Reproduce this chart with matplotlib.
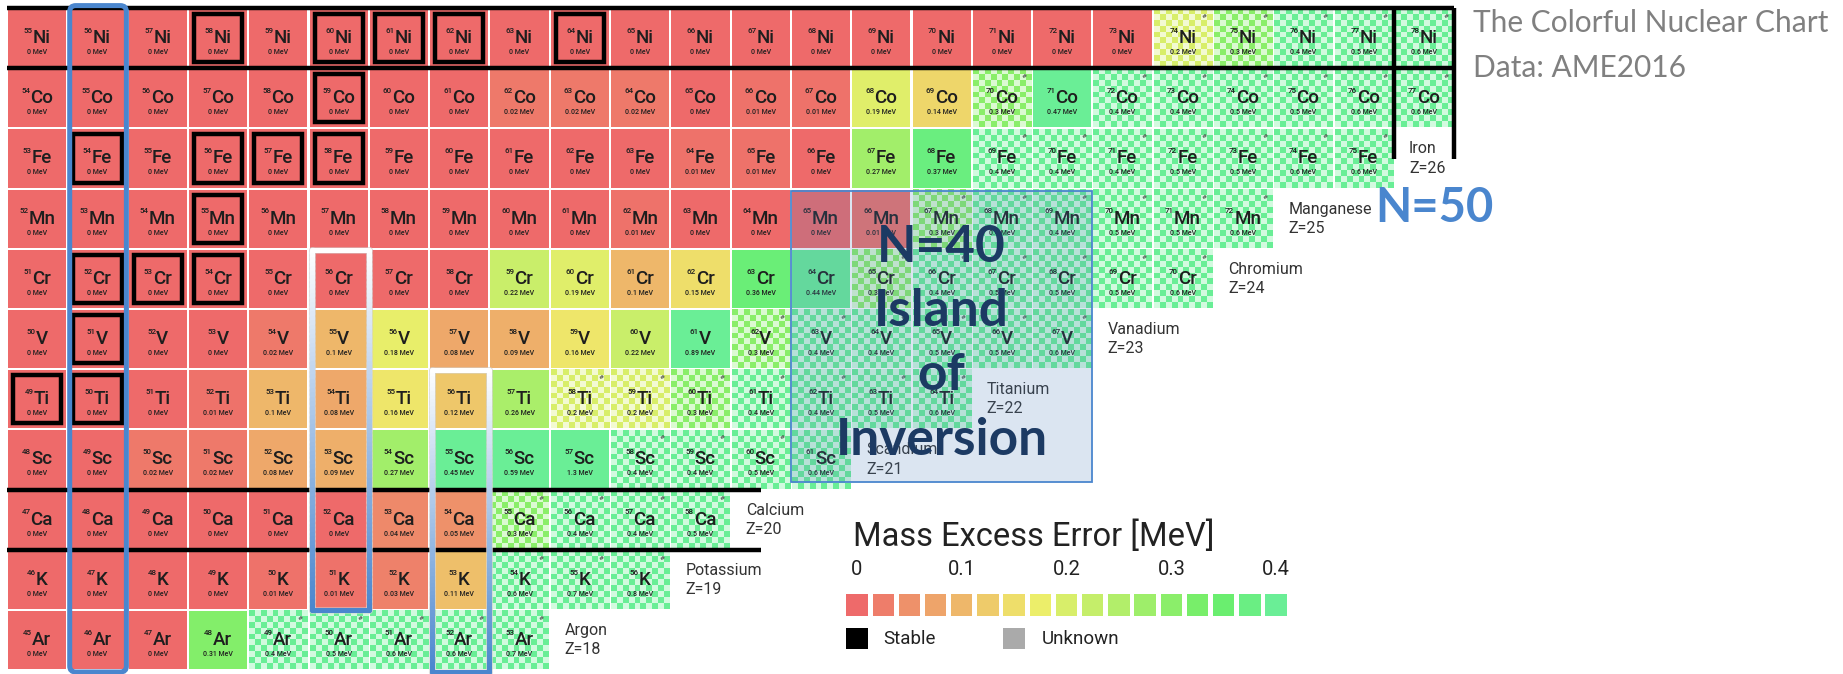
import colorsys
import numpy as np
import matplotlib.pyplot as plt
from matplotlib.patches import Rectangle, FancyBboxPatch
from matplotlib.collections import LineCollection
import matplotlib.patheffects as pe

# elements from Z=18 up to Z=28, every row starts at N=27
symbols = ['Ar', 'K', 'Ca', 'Sc', 'Ti', 'V', 'Cr', 'Mn', 'Fe', 'Co', 'Ni']
names = ['Argon', 'Potassium', 'Calcium', 'Scandium', 'Titanium', 'Vanadium',
         'Chromium', 'Manganese', 'Iron', 'Cobalt', 'Nickel']
z_values = [18, 19, 20, 21, 22, 23, 24, 25, 26, 27, 28]
n_start = 27

# mass excess error [MeV], one entry per isotope starting at N=27
ar_err = [0, 0, 0, 0.31, 0.4, 0.5, 0.6, 0.6, 0.7]
k_err = [0, 0, 0, 0, 0.01, 0.01, 0.03, 0.11, 0.6, 0.7, 0.8]
ca_err = [0, 0, 0, 0, 0, 0, 0.04, 0.05, 0.3, 0.4, 0.4, 0.5]
sc_err = [0, 0, 0.02, 0.02, 0.08, 0.09, 0.27, 0.45, 0.59, 1.3, 0.4, 0.4, 0.5, 0.6]
ti_err = [0, 0, 0, 0.01, 0.1, 0.08, 0.16, 0.12, 0.26, 0.2, 0.2, 0.3, 0.4, 0.4, 0.5, 0.6]
v_err = [0, 0, 0, 0, 0.02, 0.1, 0.18, 0.08, 0.09, 0.16, 0.22, 0.89, 0.3, 0.4, 0.4,
         0.5, 0.5, 0.6]
cr_err = [0, 0, 0, 0, 0, 0, 0, 0, 0.22, 0.19, 0.1, 0.15, 0.36, 0.44, 0.3, 0.4, 0.5,
          0.5, 0.5, 0.6]
mn_err = [0, 0, 0, 0, 0, 0, 0, 0, 0, 0, 0.01, 0, 0, 0, 0.01, 0.3, 0.4, 0.4, 0.5,
          0.5, 0.6]
fe_err = [0, 0, 0, 0, 0, 0, 0, 0, 0, 0, 0, 0.01, 0.01, 0, 0.27, 0.37, 0.4, 0.4,
          0.4, 0.5, 0.5, 0.6, 0.6]
co_err = [0, 0, 0, 0, 0, 0, 0, 0, 0.02, 0.02, 0.02, 0, 0.01, 0.01, 0.19, 0.14,
          0.3, 0.47, 0.4, 0.4, 0.5, 0.5, 0.6, 0.6]
ni_err = [0, 0, 0, 0, 0, 0, 0, 0, 0, 0, 0, 0, 0, 0, 0, 0, 0, 0, 0, 0.2, 0.3, 0.4,
          0.5, 0.6]
errors = [ar_err, k_err, ca_err, sc_err, ti_err, v_err, cr_err, mn_err, fe_err,
          co_err, ni_err]

# mass numbers with estimated (#) values and stable isotopes
estimated = {
    'Ar': [49, 50, 51, 52, 53],
    'K': [54, 55, 56],
    'Ca': [55, 56, 57, 58],
    'Sc': [58, 59, 60, 61],
    'Ti': [58, 59, 60, 61, 62, 63, 64],
    'V': [62, 63, 64, 65, 66, 67],
    'Cr': [65, 66, 67, 68, 69, 70],
    'Mn': [67, 68, 69, 70, 71, 72],
    'Fe': [69, 70, 71, 72, 73, 74, 75],
    'Co': [70, 72, 73, 74, 75, 76, 77],
    'Ni': [74, 75, 76, 77, 78],
}
stable = {
    'Ti': [49, 50], 'V': [51], 'Cr': [52, 53, 54], 'Mn': [55],
    'Fe': [54, 56, 57, 58], 'Co': [59], 'Ni': [58, 60, 61, 62, 64],
}

legend_ticks = [0, 0.1, 0.2, 0.3, 0.4]
legend_steps = np.arange(0, 0.4001, 0.025)

TXT = '#1e1e1e'
BLUE = '#4a86ce'
GAP = 0.018


def err_color(v):
    t = min(v, 0.4) / 0.4
    return colorsys.hls_to_rgb(t * 140 / 360, 0.675, 0.8)


def light(c):
    return tuple(0.3 * ch + 0.7 for ch in c)


fig = plt.figure(figsize=(18.43, 6.74), dpi=100)
ax = fig.add_axes([0, 0, 1, 1])
ax.set_xlim(26.384, 56.948)
ax.set_ylim(17.437, 28.633)
ax.axis('off')

renderer = fig.canvas.get_renderer()
ppu = ax.transData.transform((1, 0))[0] - ax.transData.transform((0, 0))[0]
width_cache = {}


def text_width(t, key):
    if key not in width_cache:
        width_cache[key] = t.get_window_extent(renderer=renderer).width / ppu
    return width_cache[key]


checker = np.indices((10, 10)).sum(axis=0) % 2

for sym, name, Z, errs in zip(symbols, names, z_values, errors):
    for i, err in enumerate(errs):
        N = n_start + i
        A = N + Z
        col = err_color(err)
        ax.add_patch(Rectangle((N - 0.5 + GAP, Z - 0.5 + GAP), 1 - 2 * GAP, 1 - 2 * GAP,
                               facecolor=col, edgecolor='none', zorder=1))
        if A in estimated.get(sym, []):
            img = np.where(checker[..., None] == 0, np.array(col), np.array(light(col)))
            ax.imshow(img, extent=(N - 0.5 + GAP, N + 0.5 - GAP, Z - 0.5 + GAP, Z + 0.5 - GAP),
                      interpolation='nearest', aspect='auto', zorder=1.5)
            ax.text(N + 0.36, Z + 0.36, '#', fontsize=4.5, ha='center', va='center',
                    color='#333333', zorder=4)
        if A in stable.get(sym, []):
            ax.add_patch(Rectangle((N - 0.4, Z - 0.4), 0.8, 0.8, fill=False,
                                   edgecolor='black', lw=3.2, zorder=3))
        t_sym = ax.text(N, Z - 0.08, sym, fontsize=13.5, family='Roboto', weight='medium',
                        ha='left', va='baseline', color=TXT, zorder=4)
        t_a = ax.text(N, Z + 0.17, str(A), fontsize=5.8, family='Roboto', weight='medium',
                      ha='right', va='top', color=TXT, zorder=4)
        w_sym = text_width(t_sym, 's' + sym)
        w_a = text_width(t_a, 'a' + str(A))
        left = N - (w_sym + w_a) / 2
        t_a.set_x(left + w_a)
        t_sym.set_x(left + w_a)
        ax.text(N, Z - 0.23, f'{err:g} MeV', fontsize=5, family='Roboto', weight='medium',
                ha='center', va='center', color=TXT, zorder=4)

    # element name next to the last isotope of the row
    if Z <= 26:
        n_label = n_start + len(errs)
        ax.text(n_label - 0.25, Z, f'{name}\nZ={Z}', fontsize=11.5, family='Roboto',
                ha='left', va='center', color='#333333', linespacing=1.35, zorder=4)

# magic number lines
mk = dict(color='black', lw=3.2, solid_capstyle='butt', zorder=5)
ax.plot([26.5, 50.5], [28.5, 28.5], **mk)
ax.plot([26.5, 50.5], [27.5, 27.5], **mk)
ax.plot([49.5, 49.5], [28.5, 26.0], **mk)
ax.plot([50.5, 50.5], [28.5, 26.0], **mk)
ax.plot([26.5, 39.0], [20.5, 20.5], **mk)
ax.plot([26.5, 39.0], [19.5, 19.5], **mk)

# island of inversion box
ax.add_patch(Rectangle((39.5, 20.63), 5.0, 4.83, facecolor=(0.31, 0.506, 0.741, 0.2),
                       edgecolor=BLUE, lw=1.3, zorder=6))
ax.text(42, 22.92, 'N=40\nIsland\nof\nInversion', fontsize=37, fontweight='bold',
        family='Lato', ha='center', va='center', color='#1c3a63', linespacing=1.45,
        zorder=8)
ax.text(50.17, 25.18, 'N=50', fontsize=34, fontweight='bold', family='Lato',
        ha='center', va='center', color=BLUE, zorder=8)

# N=28 column
ax.add_patch(FancyBboxPatch((27.54, 17.47), 0.94, 11.07,
                            boxstyle='round,pad=0,rounding_size=0.1', fill=False,
                            edgecolor=BLUE, lw=3.6, zorder=7))


def gradient_frame(x0, x1, y0, y1, lw=3.6, steps=80):
    white = np.array([1.0, 1.0, 1.0])
    blue = np.array(plt.matplotlib.colors.to_rgb(BLUE))
    ys = np.linspace(y1, y0, steps + 1)
    segs, cols = [], []
    for x in (x0, x1):
        for k in range(steps):
            segs.append([(x, ys[k]), (x, ys[k + 1])])
            cols.append(white + (blue - white) * (k + 0.5) / steps)
    segs.append([(x0, y1), (x1, y1)])
    cols.append(white)
    segs.append([(x0, y0), (x1, y0)])
    cols.append(blue)
    lc = LineCollection(segs, colors=cols, linewidths=lw, capstyle='round', zorder=7)
    lc.set_path_effects([pe.Stroke(linewidth=lw + 1.5, foreground='#d4d4d4', alpha=0.5),
                         pe.Normal()])
    ax.add_collection(lc)


gradient_frame(31.55, 32.5, 18.5, 24.48)
gradient_frame(33.55, 34.5, 17.47, 22.48)

# title
fig.text(1473 / 1843, 1 - 23 / 674, 'The Colorful Nuclear Chart', fontsize=21.5,
         family='Lato', color='#808080', va='center', ha='left')
fig.text(1473 / 1843, 1 - 68 / 674, 'Data: AME2016', fontsize=21.5,
         family='Lato', color='#808080', va='center', ha='left')

# colour legend
lax = fig.add_axes([820 / 1843, 1 - 662 / 674, 490 / 1843, 150 / 674])
lax.set_xlim(-0.0353, 0.4323)
lax.set_ylim(662, 512)
lax.axis('off')
lax.add_patch(Rectangle((-0.03, 515), 0.46, 145, facecolor='white', edgecolor='none'))
lax.text(-0.004, 537, 'Mass Excess Error [MeV]', fontsize=23.5, family='Roboto',
         ha='left', va='center', color='#222222')
for t in legend_ticks:
    lax.text(t, 570, f'{t:g}', fontsize=14.5, family='Roboto', ha='center', va='center',
             color='#222222')
for v in legend_steps:
    lax.add_patch(Rectangle((v - 0.0102, 594), 0.0204, 22, facecolor=err_color(v),
                            edgecolor='none'))
lax.add_patch(Rectangle((-0.0102, 628), 0.0204, 21, facecolor='black', edgecolor='none'))
lax.text(0.0248, 639, 'Stable', fontsize=13.5, family='Roboto', ha='left', va='center',
         color='#222222')
lax.add_patch(Rectangle((0.1398, 628), 0.0204, 21, facecolor='#aaaaaa', edgecolor='none'))
lax.text(0.1765, 639, 'Unknown', fontsize=13.5, family='Roboto', ha='left', va='center',
         color='#222222')

fig.savefig('out.png', dpi=100, facecolor='white')
